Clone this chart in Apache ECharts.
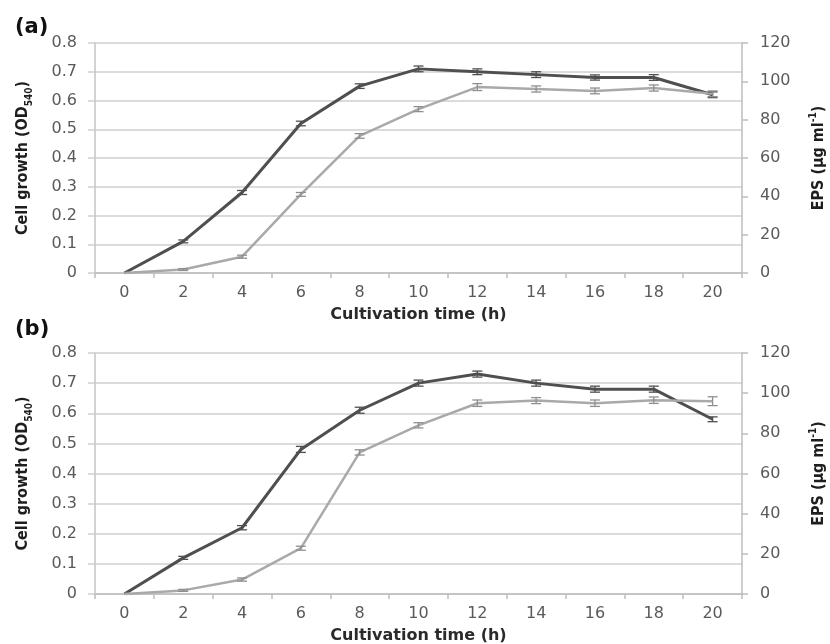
<!DOCTYPE html>
<html>
<head>
<meta charset="utf-8">
<script src="https://cdn.jsdelivr.net/npm/echarts@6/dist/echarts.min.js"></script>
<style>
  html, body { margin: 0; padding: 0; background: #fff; }
  #chart { width: 830px; height: 644px; }
</style>
</head>
<body>
<div id="chart"></div>
<script>
// cultivation time (h)
const hours = ['0', '2', '4', '6', '8', '10', '12', '14', '16', '18', '20']

// panel (a)
const odA = [0, 0.11, 0.28, 0.52, 0.65, 0.71, 0.70, 0.69, 0.68, 0.68, 0.62]
const odAErr = [0, 0.005, 0.007, 0.008, 0.008, 0.01, 0.01, 0.01, 0.009, 0.01, 0.01]
const epsA = [0, 1.8, 8.5, 41, 71.5, 85.5, 97, 96, 95, 96.5, 93.5]
const epsAErr = [0, 0.5, 0.8, 1, 1.2, 1.3, 1.8, 1.6, 1.5, 1.6, 1.5]

// panel (b)
const odB = [0, 0.12, 0.22, 0.48, 0.61, 0.70, 0.73, 0.70, 0.68, 0.68, 0.58]
const odBErr = [0, 0.005, 0.007, 0.01, 0.01, 0.01, 0.01, 0.01, 0.01, 0.01, 0.008]
const epsB = [0, 1.8, 7.2, 22.8, 70.5, 84, 95, 96.3, 95, 96.5, 96]
const epsBErr = [0, 0.5, 0.8, 1, 1.3, 1.3, 1.6, 1.5, 1.6, 1.6, 2.2]

const darkColor = '#4f4f4f'
const lightColor = '#a9a9a9'
const gridColor = '#cfcfcf'
const labelColor = '#5a5a5a'
const narrowFont = "'DejaVu Sans Condensed', 'Liberation Sans', sans-serif"

const chart = echarts.init(document.getElementById('chart'))

const errorBars = (name, values, errs, color, xIdx, yIdx) => ({
  name: name,
  type: 'custom',
  xAxisIndex: xIdx,
  yAxisIndex: yIdx,
  z: 3,
  data: values.map((v, i) => [i, v - errs[i], v + errs[i]]),
  renderItem: (params, api) => {
    if (api.value(2) - api.value(1) <= 0) return null
    const lo = api.coord([api.value(0), api.value(1)])
    const hi = api.coord([api.value(0), api.value(2)])
    const w = 5
    const style = { stroke: color, lineWidth: 1.3 }
    return {
      type: 'group',
      children: [
        { type: 'line', shape: { x1: lo[0], y1: lo[1], x2: hi[0], y2: hi[1] }, style: style },
        { type: 'line', shape: { x1: lo[0] - w, y1: lo[1], x2: lo[0] + w, y2: lo[1] }, style: style },
        { type: 'line', shape: { x1: hi[0] - w, y1: hi[1], x2: hi[0] + w, y2: hi[1] }, style: style }
      ]
    }
  }
})

const xAxisFor = (gridIndex) => ({
  type: 'category',
  gridIndex: gridIndex,
  data: hours,
  boundaryGap: true,
  name: 'Cultivation time (h)',
  nameLocation: 'middle',
  nameGap: 34,
  nameTextStyle: { fontFamily: 'DejaVu Sans', fontWeight: 'bold', fontSize: 16, color: '#2a2a2a' },
  axisLine: { lineStyle: { color: '#bdbdbd', width: 1.5 } },
  axisTick: { show: true, length: 5, lineStyle: { color: '#bdbdbd', width: 1.5 } },
  axisLabel: { margin: 12, fontFamily: 'DejaVu Sans', fontSize: 16, color: labelColor },
  splitLine: { show: false }
})

const leftAxisFor = (gridIndex) => ({
  type: 'value',
  gridIndex: gridIndex,
  position: 'left',
  min: 0,
  max: 0.8,
  interval: 0.1,
  name: '{a|Cell growth (OD}{s|540}{a|)}',
  nameLocation: 'middle',
  nameRotate: 90,
  nameGap: 61,
  nameTextStyle: {
    rich: {
      a: { fontFamily: narrowFont, fontWeight: 'bold', fontSize: 16, color: '#1e1e1e', lineHeight: 22 },
      s: { fontFamily: narrowFont, fontWeight: 'bold', fontSize: 10, color: '#1e1e1e', lineHeight: 22, verticalAlign: 'bottom' }
    }
  },
  axisLine: { show: true, lineStyle: { color: '#c4c4c4', width: 1.5 } },
  axisTick: { show: true, length: 7, lineStyle: { color: gridColor, width: 1.5 } },
  axisLabel: { margin: 18, fontFamily: 'DejaVu Sans', fontSize: 16, color: labelColor, formatter: (v) => v === 0 ? '0' : v.toFixed(1) },
  splitLine: { show: true, lineStyle: { color: gridColor, width: 1.5 } }
})

const rightAxisFor = (gridIndex) => ({
  type: 'value',
  gridIndex: gridIndex,
  position: 'right',
  min: 0,
  max: 120,
  interval: 20,
  name: '{a|EPS (μg ml}{p|-1}{a|)}',
  nameLocation: 'middle',
  nameRotate: 90,
  nameGap: 66,
  nameTextStyle: {
    rich: {
      a: { fontFamily: narrowFont, fontWeight: 'bold', fontSize: 16, color: '#1e1e1e', lineHeight: 22 },
      p: { fontFamily: narrowFont, fontWeight: 'bold', fontSize: 10, color: '#1e1e1e', lineHeight: 22, verticalAlign: 'top' }
    }
  },
  axisLine: { show: true, lineStyle: { color: '#bdbdbd', width: 1.5 } },
  axisTick: { show: true, length: 6, lineStyle: { color: '#bdbdbd', width: 1.5 } },
  axisLabel: { margin: 18, fontFamily: 'DejaVu Sans', fontSize: 16, color: labelColor },
  splitLine: { show: false }
})

const lineFor = (name, values, color, width, xIdx, yIdx) => ({
  name: name,
  type: 'line',
  xAxisIndex: xIdx,
  yAxisIndex: yIdx,
  data: values,
  symbol: 'none',
  z: 2,
  lineStyle: { color: color, width: width }
})

chart.setOption({
  backgroundColor: '#ffffff',
  animation: false,
  title: [
    { text: '(a)', left: 10, top: 12, textStyle: { fontFamily: 'DejaVu Sans', fontWeight: 'bold', fontSize: 21, color: '#111' } },
    { text: '(b)', left: 10, top: 314, textStyle: { fontFamily: 'DejaVu Sans', fontWeight: 'bold', fontSize: 21, color: '#111' } }
  ],
  grid: [
    { left: 95, right: 88, top: 43, height: 230, outerBoundsMode: 'none' },
    { left: 95, right: 88, top: 353, height: 241, outerBoundsMode: 'none' }
  ],
  xAxis: [xAxisFor(0), xAxisFor(1)],
  yAxis: [leftAxisFor(0), rightAxisFor(0), leftAxisFor(1), rightAxisFor(1)],
  series: [
    lineFor('Cell growth (a)', odA, darkColor, 3, 0, 0),
    errorBars('Cell growth (a) error', odA, odAErr, darkColor, 0, 0),
    lineFor('EPS (a)', epsA, lightColor, 2.5, 0, 1),
    errorBars('EPS (a) error', epsA, epsAErr, '#8f8f8f', 0, 1),
    lineFor('Cell growth (b)', odB, darkColor, 3, 1, 2),
    errorBars('Cell growth (b) error', odB, odBErr, darkColor, 1, 2),
    lineFor('EPS (b)', epsB, lightColor, 2.5, 1, 3),
    errorBars('EPS (b) error', epsB, epsBErr, '#8f8f8f', 1, 3)
  ]
})
</script>
</body>
</html>
